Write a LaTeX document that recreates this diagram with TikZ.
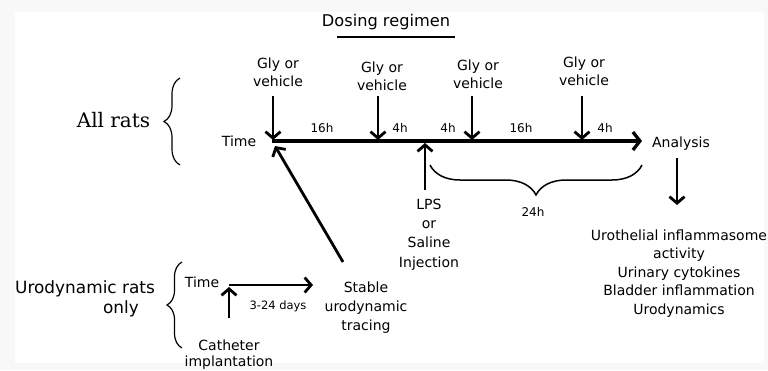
\documentclass[tikz,border=0pt]{standalone}
\usepackage{fontspec}
\setmainfont{DejaVu Sans}
\newfontfamily\serifA{DejaVu Serif}
\usetikzlibrary{arrows.meta,decorations.pathreplacing}
\definecolor{framegray}{RGB}{248,248,248}
\begin{document}
\begin{tikzpicture}[x=1pt,y=-1pt,
  txt/.style={inner sep=0pt, font=\fontsize{14}{16}\selectfont},
  lone/.style={txt, anchor=base},
  multi/.style={txt, align=center, anchor=north},
  glylab/.style={multi, font=\fontsize{14}{18}\selectfont},
  hrs/.style={inner sep=0pt, anchor=base, font=\fontsize{12}{14}\selectfont},
  dosearrow/.style={line width=2.8pt, -{Straight Barb[length=6.5pt,width=15pt]}},
  timeline/.style={line width=3.3pt, -{Straight Barb[length=7pt,width=18pt]}},
  bracestyle/.style={line width=1.2pt, decorate, decoration={brace, amplitude=#1}}
]
\useasboundingbox (0,0) rectangle (768,370);
\fill[framegray] (0,0) rectangle (768,370);
\fill[white] (15,12) rectangle (764,363);

% heading
\node[lone, font=\fontsize{16.2}{18}\selectfont] (dosing) at (386,26) {Dosing regimen};
\coordinate (ulA) at (337,37);
\coordinate (ulB) at (455,37);
\draw[line width=1.6pt] (ulA) -- (ulB);

% main timeline
\node[lone] (time1) at (239,146) {Time};
\coordinate (t0) at (272,141);
\coordinate (t1) at (642,141);
\draw[timeline] (t0) -- (t1);
\node[lone] (analysis) at (681,147) {Analysis};

% dosing labels and arrows
\node[glylab] (gly1) at (278,57.4) {Gly or\\vehicle};
\node[glylab] (gly2) at (382,61.4) {Gly or\\vehicle};
\node[glylab] (gly3) at (478,59.4) {Gly or\\vehicle};
\node[glylab] (gly4) at (584,56.4) {Gly or\\vehicle};
\foreach \i/\x in {1/273,2/378,3/472,4/582}{
  \coordinate (ga\i) at (\x,96);
  \coordinate (gb\i) at (\x,140);
  \draw[dosearrow] (ga\i) -- (gb\i);
}

% interval labels
\node[hrs] (h1) at (322,132) {16h};
\node[hrs] (h2) at (400,132) {4h};
\node[hrs] (h3) at (448,132) {4h};
\node[hrs] (h4) at (521,132) {16h};
\node[hrs] (h5) at (605,132) {4h};

% LPS
\coordinate (lpsA) at (425,190);
\coordinate (lpsB) at (425,143);
\draw[dosearrow] (lpsA) -- (lpsB);
\node[multi, font=\fontsize{14}{19.3}\selectfont] (lps) at (429,198.8) {LPS\\or\\Saline\\Injection};

% 24h brace
\coordinate (brA) at (642,165);
\coordinate (brB) at (430,165);
\draw[bracestyle=30pt, line width=1.5pt] (brA) -- (brB);
\node[hrs] (h24) at (533,216) {24h};

% analysis results
\coordinate (anA) at (677,158);
\coordinate (anB) at (677,205);
\draw[dosearrow] (anA) -- (anB);
\node[multi, font=\fontsize{14}{18.5}\selectfont] (results) at (679,229.4)
  {Urothelial inflammasome\\activity\\Urinary cytokines\\Bladder inflammation\\Urodynamics};

% All rats
\node[inner sep=0pt, anchor=base, font=\serifA\fontsize{20}{24}\selectfont] (allrats) at (113.5,127) {All rats};
\coordinate (b1A) at (180,165);
\coordinate (b1B) at (180,78);
\draw[bracestyle=16pt] (b1A) -- (b1B);

% Urodynamic rats
\node[inner sep=0pt, anchor=base, font=\fontsize{16.9}{20}\selectfont] (urorats) at (85,293) {Urodynamic rats};
\node[inner sep=0pt, anchor=base, font=\fontsize{16.9}{20}\selectfont] (uroonly) at (121,313) {only};
\coordinate (b2A) at (182,348);
\coordinate (b2B) at (182,262);
\draw[bracestyle=15pt] (b2A) -- (b2B);

\node[lone] (time2) at (202,287) {Time};
\coordinate (u0) at (229,285);
\coordinate (u1) at (313,285);
\draw[dosearrow] (u0) -- (u1);
\coordinate (catA) at (229,318);
\coordinate (catB) at (229,287);
\draw[dosearrow] (catA) -- (catB);
\node[inner sep=0pt, anchor=base, font=\fontsize{11.5}{13}\selectfont] (days) at (278,309) {3-24 days};
\node[multi, font=\fontsize{14}{16}\selectfont] (catheter) at (229,339.4) {Catheter\\implantation};
\node[multi, font=\fontsize{14}{19.3}\selectfont] (stable) at (366,281.4) {Stable\\urodynamic\\tracing};

% diagonal arrow
\coordinate (dgA) at (343,262);
\coordinate (dgB) at (275,146);
\draw[dosearrow] (dgA) -- (dgB);
\end{tikzpicture}
\end{document}
